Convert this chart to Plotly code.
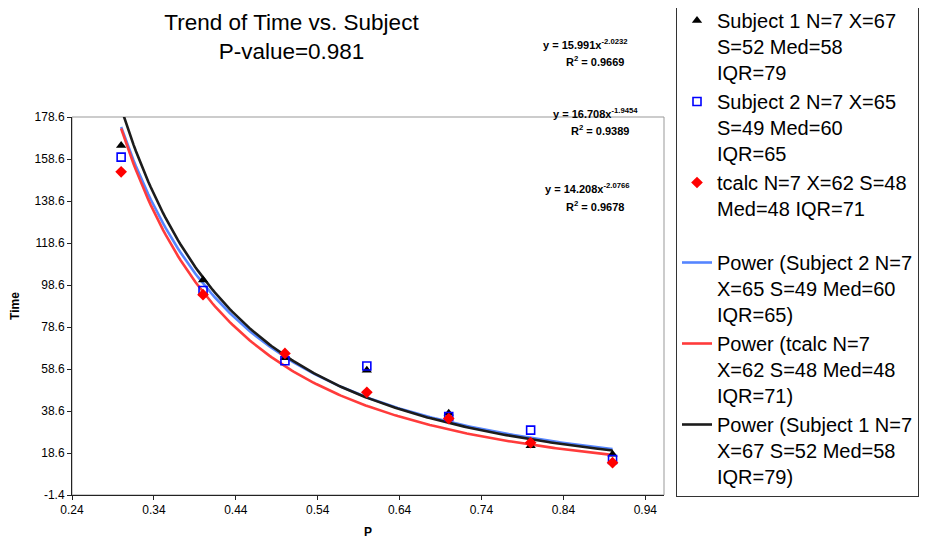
import numpy as np
import plotly.graph_objects as go

# ---- data ----
p_values = [0.3, 0.4, 0.5, 0.6, 0.7, 0.8, 0.9]
subject1 = [165.0, 101.0, 64.0, 58.0, 37.5, 22.0, 18.0]
subject2 = [159.5, 96.0, 62.5, 60.0, 36.0, 29.5, 15.5]
tcalc = [152.5, 94.0, 66.0, 47.5, 35.0, 23.5, 14.0]

names_pts = ["Subject 1 N=7 X=67<br>S=52 Med=58<br>IQR=79",
             "Subject 2 N=7 X=65<br>S=49 Med=60<br>IQR=65",
             "tcalc N=7 X=62 S=48<br>Med=48 IQR=71"]

# fitted power trend lines y = a * x^b, as printed on the chart
fit_names = ["Power (Subject 2 N=7<br>X=65 S=49 Med=60<br>IQR=65)",
             "Power (tcalc N=7<br>X=62 S=48 Med=48<br>IQR=71)",
             "Power (Subject 1 N=7<br>X=67 S=52 Med=58<br>IQR=79)"]
fit_a = [16.708, 14.208, 15.991]
fit_b = [-1.9454, -2.0766, -2.0232]
fit_r2 = [0.9389, 0.9678, 0.9669]
fit_colors = ["#5585ff", "#ff3b3b", "#1c1c1c"]

y_ticks = [-1.4 + 20 * i for i in range(10)]
x_ticks = [0.24 + 0.1 * i for i in range(8)]

# page has an 8px body margin, so the figure is drawn 8px in from the top-left
OFF = 8
W, H = 933 - OFF, 539 - OFF
L, R, T, B = 72 - OFF, 664 - OFF, 117 - OFF, 495 - OFF
x_max = 0.24 + 0.1 * (R - L) / 81.9

fig = go.Figure()

xs = np.linspace(min(p_values), max(p_values), 200)
for i in range(3):
    fig.add_trace(go.Scatter(
        x=xs, y=fit_a[i] * xs ** fit_b[i], mode="lines",
        name=fit_names[i], legendgroup="fits", legendrank=10 + i,
        line=dict(color=fit_colors[i], width=2.6),
        hoverinfo="skip"))

fig.add_trace(go.Scatter(x=p_values, y=subject1, mode="markers", name=names_pts[0],
                         legendgroup="pts", legendrank=1,
                         marker=dict(symbol="triangle-up", size=9, color="black")))
fig.add_trace(go.Scatter(x=p_values, y=subject2, mode="markers", name=names_pts[1],
                         legendgroup="pts", legendrank=2,
                         marker=dict(symbol="square-open", size=8, color="#0000ff",
                                     line=dict(width=1.6, color="#0000ff"))))
fig.add_trace(go.Scatter(x=p_values, y=tcalc, mode="markers", name=names_pts[2],
                         legendgroup="pts", legendrank=3,
                         marker=dict(symbol="diamond", size=9, color="#ff0000")))

def px_x(px):
    return (px - OFF - L) / (R - L)

def px_y(py):
    return (B - (py - OFF)) / (B - T)

# equation labels (positions are reference-picture pixel centres)
eq_pos = {2: ((585, 44), (595, 61)), 0: ((595, 113), (600, 130)), 1: ((587, 188), (595, 206))}
for i, ((x1, y1), (x2, y2)) in eq_pos.items():
    fig.add_annotation(x=px_x(x1), y=px_y(y1), xref="paper", yref="paper",
                       xanchor="center", yanchor="middle",
                       text=f"<b>y = {fit_a[i]:.3f}x<sup>{fit_b[i]:.4f}</sup></b>",
                       showarrow=False, font=dict(size=11, color="black"))
    fig.add_annotation(x=px_x(x2), y=px_y(y2), xref="paper", yref="paper",
                       xanchor="center", yanchor="middle",
                       text=f"<b>R<sup>2</sup> = {fit_r2[i]:.4f}</b>",
                       showarrow=False, font=dict(size=11, color="black"))

# plot-area border (gray)
fig.add_shape(type="rect", xref="paper", yref="paper", x0=0, x1=1, y0=0, y1=1,
              line=dict(color="#999999", width=1), layer="below")

axis_common = dict(showgrid=False, zeroline=False)

fig.update_layout(
    width=W, height=H,
    margin=dict(l=L, r=W - R, t=T, b=H - B, autoexpand=False),
    paper_bgcolor="white", plot_bgcolor="white",
    font=dict(family="Liberation Sans, Arial, sans-serif", color="black"),
    title=dict(text="Trend of Time vs. Subject<br>P-value=0.981",
               x=(291.5 - OFF) / W, xanchor="center", y=1 - 22 / H, yanchor="top",
               xref="container", yref="container",
               font=dict(size=22.5, color="black")),
    showlegend=True,
    legend=dict(x=(676 - OFF) / W, y=px_y(OFF - 8), xref="container", yref="paper",
                xanchor="left", yanchor="top", valign="top",
                bordercolor="#333333", borderwidth=1, bgcolor="white",
                font=dict(size=20, color="black"), maxheight=H + 40,
                traceorder="grouped", tracegroupgap=25),
    xaxis=dict(range=[0.24, x_max], tickvals=x_ticks,
               ticktext=[f"{v:.2f}" for v in x_ticks],
               showline=True, linecolor="#222222",
               linewidth=1, ticks="outside", ticklen=4, tickcolor="#222222",
               tickfont=dict(size=12),
               title=dict(text="<b>P</b>", font=dict(size=12), standoff=13),
               **axis_common),
    yaxis=dict(range=[-1.4, 178.6], tickvals=y_ticks,
               ticktext=[f"{v:.1f}" for v in y_ticks],
               showline=True, linecolor="#222222",
               linewidth=1, ticks="outside", ticklen=4, tickcolor="#222222",
               tickfont=dict(size=12),
               title=dict(text="<b>Time</b>", font=dict(size=12), standoff=16),
               **axis_common),
    # overlay axes providing the inner half of the crossing tick marks
    xaxis2=dict(range=[0.24, x_max], tickvals=x_ticks, overlaying="x", anchor="y",
                side="bottom", ticks="inside", ticklen=4, tickcolor="#222222",
                showticklabels=False, showline=False, **axis_common),
    yaxis2=dict(range=[-1.4, 178.6], tickvals=y_ticks, overlaying="y", anchor="x",
                side="left", ticks="inside", ticklen=4, tickcolor="#222222",
                showticklabels=False, showline=False, **axis_common),
)

fig.write_html("out.html")
